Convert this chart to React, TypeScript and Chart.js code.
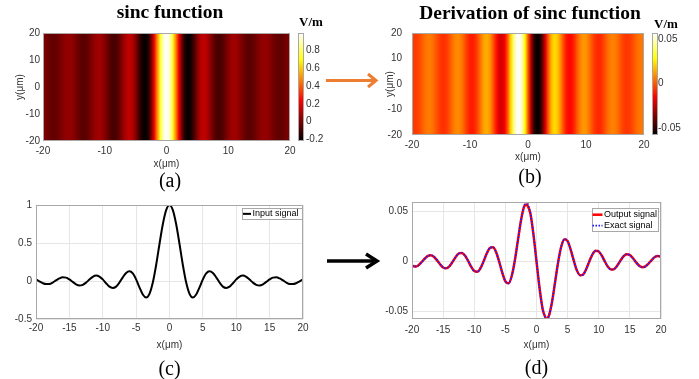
import React, { useEffect, useRef } from 'react';
import { Chart, registerables } from 'chart.js';

Chart.register(...registerables);

// ---------- data ----------
const sincX = [
  -20, -19.5, -19, -18.5, -18, -17.5, -17, -16.5, -16, -15.5, -15, -14.5, -14, -13.5, -13, -12.5, -12, -11.5, -11, -10.5,
  -10, -9.5, -9, -8.5, -8, -7.5, -7, -6.5, -6, -5.5, -5, -4.5, -4, -3.5, -3, -2.5, -2, -1.5, -1, -0.5,
  0, 0.5, 1, 1.5, 2, 2.5, 3, 3.5, 4, 4.5, 5, 5.5, 6, 6.5, 7, 7.5, 8, 8.5, 9, 9.5,
  10, 10.5, 11, 11.5, 12, 12.5, 13, 13.5, 14, 14.5, 15, 15.5, 16, 16.5, 17, 17.5, 18, 18.5, 19, 19.5, 20,
];
const sincY = [
  0.020, -0.004, -0.028, -0.041, -0.039, -0.020, 0.008, 0.034, 0.048, 0.044, 0.021, -0.012, -0.043, -0.058, -0.050, -0.021, 0.019, 0.055, 0.071, 0.059,
  0.021, -0.029, -0.074, -0.091, -0.074, -0.020, 0.048, 0.105, 0.128, 0.100, 0.021, -0.084, -0.177, -0.217, -0.169, -0.021, 0.211, 0.487, 0.747, 0.933,
  1.000, 0.933, 0.747, 0.487, 0.211, -0.021, -0.169, -0.217, -0.177, -0.084, 0.021, 0.100, 0.128, 0.105, 0.048, -0.020, -0.074, -0.091, -0.074, -0.029,
  0.021, 0.059, 0.071, 0.055, 0.019, -0.021, -0.050, -0.058, -0.043, -0.012, 0.021, 0.044, 0.048, 0.034, 0.008, -0.020, -0.039, -0.041, -0.028, -0.004, 0.020,
];

const derivX = [
  -20, -19.5, -19, -18.5, -18, -17.5, -17, -16.5, -16, -15.5, -15, -14.5, -14, -13.5, -13, -12.5, -12, -11.5, -11, -10.5,
  -10, -9.5, -9, -8.5, -8, -7.5, -7, -6.5, -6, -5.5, -5, -4.5, -4, -3.5, -3, -2.5, -2, -1.6, -1.5, -1, -0.5,
  0, 0.5, 1, 1.5, 1.6, 2, 2.5, 3, 3.5, 4, 4.5, 5, 5.5, 6, 6.5, 7, 7.5, 8, 8.5, 9, 9.5,
  10, 10.5, 11, 11.5, 12, 12.5, 13, 13.5, 14, 14.5, 15, 15.5, 16, 16.5, 17, 17.5, 18, 18.5, 19, 19.5, 20,
];
const outputY = [
  -0.0044, -0.0053, -0.0042, -0.0012, 0.0023, 0.0052, 0.0060, 0.0046, 0.0011, -0.0030, -0.0062, -0.0071, -0.0051, -0.0008, 0.0041, 0.0077, 0.0084, 0.0058, 0.0005, -0.0055,
  -0.0098, -0.0105, -0.0070, -0.0001, 0.0077, 0.0133, 0.0141, 0.0094, -0.0004, -0.0114, -0.0202, -0.0222, -0.0153, 0.0000, 0.0204, 0.0407, 0.0546, 0.0570, 0.0565, 0.0484, 0.0274,
  0.0000, -0.0274, -0.0484, -0.0572, -0.0580, -0.0546, -0.0407, -0.0204, 0.0000, 0.0153, 0.0222, 0.0202, 0.0114, 0.0004, -0.0094, -0.0141, -0.0133, -0.0077, 0.0001, 0.0070, 0.0105,
  0.0098, 0.0055, -0.0005, -0.0058, -0.0084, -0.0077, -0.0041, 0.0008, 0.0051, 0.0071, 0.0062, 0.0030, -0.0011, -0.0046, -0.0060, -0.0052, -0.0023, 0.0012, 0.0042, 0.0053, 0.0044,
];
const exactY = [
  -0.0044, -0.0053, -0.0042, -0.0012, 0.0023, 0.0052, 0.0060, 0.0046, 0.0011, -0.0030, -0.0062, -0.0071, -0.0051, -0.0008, 0.0041, 0.0077, 0.0084, 0.0058, 0.0005, -0.0055,
  -0.0098, -0.0105, -0.0070, -0.0001, 0.0077, 0.0133, 0.0141, 0.0094, -0.0004, -0.0114, -0.0202, -0.0222, -0.0153, 0.0000, 0.0204, 0.0407, 0.0552, 0.0595, 0.0590, 0.0492, 0.0274,
  0.0000, -0.0274, -0.0484, -0.0572, -0.0580, -0.0546, -0.0407, -0.0204, 0.0000, 0.0153, 0.0222, 0.0202, 0.0114, 0.0004, -0.0094, -0.0141, -0.0133, -0.0077, 0.0001, 0.0070, 0.0105,
  0.0098, 0.0055, -0.0005, -0.0058, -0.0084, -0.0077, -0.0041, 0.0008, 0.0051, 0.0071, 0.0062, 0.0030, -0.0011, -0.0046, -0.0060, -0.0052, -0.0023, 0.0012, 0.0042, 0.0053, 0.0044,
];

const mapTicks = [-20, -10, 0, 10, 20];
const lineXTicks = [-20, -15, -10, -5, 0, 5, 10, 15, 20];
const sincYTicks = [-0.5, 0, 0.5, 1];
const derivYTicks = [-0.05, 0, 0.05];
const sincBarTicks = [-0.2, 0, 0.2, 0.4, 0.6, 0.8];
const derivBarTicks = [-0.05, 0, 0.05];

const titleA = 'sinc function';
const titleB = 'Derivation of sinc function';
const panelLabels = ['(a)', '(b)', '(c)', '(d)'];
const xLabel = 'x(μm)';
const yLabel = 'y(μm)';
const unitLabel = 'V/m';
const inputLabel = 'Input signal';
const outputLabel = 'Output signal';
const exactLabel = 'Exact signal';

// ---------- styling helpers ----------
const SANS = '"Liberation Sans", Arial, sans-serif';
const SERIF = '"Liberation Serif", "Times New Roman", serif';
const TICK_COLOR = '#333333';
const FRAME_COLOR = '#a8a8a8';

function hot(t: number) {
  const c = Math.max(0, Math.min(1, t));
  const r = Math.min(1, c / 0.375);
  const g = Math.max(0, Math.min(1, (c - 0.375) / 0.375));
  const b = Math.max(0, Math.min(1, (c - 0.75) / 0.25));
  return `rgb(${Math.round(r * 255)},${Math.round(g * 255)},${Math.round(b * 255)})`;
}

const fixedTicks = (vals: number[]) => (scale: any) => {
  scale.ticks = vals.map((v) => ({ value: v }));
};

const tickFont = { family: SANS, size: 10 };

const framePlugin = {
  id: 'frame',
  afterDatasetsDraw(chart: any) {
    const { ctx, chartArea: a } = chart;
    ctx.save();
    ctx.strokeStyle = FRAME_COLOR;
    ctx.lineWidth = 1;
    ctx.strokeRect(Math.round(a.left) + 0.5, Math.round(a.top) + 0.5, Math.round(a.right - a.left) - 1, Math.round(a.bottom - a.top) - 1);
    ctx.restore();
  },
};

function makeHeatmapPlugin(cfg: {
  xs: number[]; vs: number[]; min: number; max: number;
  barOffset: number; barWidth: number; unitDX: number; unitDY: number;
}) {
  return {
    id: 'heatmap',
    beforeDatasetsDraw(chart: any) {
      const { ctx, chartArea: a, scales } = chart;
      const xs = scales.x;
      const w = a.right - a.left;
      const g = ctx.createLinearGradient(a.left, 0, a.right, 0);
      cfg.xs.forEach((x, i) => {
        const p = (xs.getPixelForValue(x) - a.left) / w;
        g.addColorStop(Math.max(0, Math.min(1, p)), hot((cfg.vs[i] - cfg.min) / (cfg.max - cfg.min)));
      });
      ctx.save();
      ctx.fillStyle = g;
      ctx.fillRect(a.left, a.top, w, a.bottom - a.top);
      // colour bar
      const cb = scales.cb;
      const top = cb.getPixelForValue(cfg.max);
      const bot = cb.getPixelForValue(cfg.min);
      const x0 = a.right + cfg.barOffset;
      const g2 = ctx.createLinearGradient(0, bot, 0, top);
      g2.addColorStop(0, '#000000');
      g2.addColorStop(0.375, '#ff0000');
      g2.addColorStop(0.75, '#ffff00');
      g2.addColorStop(1, '#ffffff');
      ctx.fillStyle = g2;
      ctx.fillRect(x0, top, cfg.barWidth, bot - top);
      ctx.strokeStyle = FRAME_COLOR;
      ctx.lineWidth = 1;
      ctx.strokeRect(x0 + 0.5, top + 0.5, cfg.barWidth - 1, bot - top - 1);
      // unit
      ctx.fillStyle = '#000';
      ctx.font = `bold 13px ${SERIF}`;
      ctx.textAlign = 'left';
      ctx.textBaseline = 'middle';
      ctx.fillText(unitLabel, a.right + cfg.unitDX, a.top + cfg.unitDY);
      ctx.restore();
    },
  };
}

function makeLegendPlugin(cfg: {
  fontSize: number; lineLen: number; padL: number; gap: number; padR: number;
  rowH: number; padV: number; right: number; top: number;
}) {
  return {
    id: 'insideLegend',
    afterDatasetsDraw(chart: any) {
      const { ctx, chartArea: a } = chart;
      const ds = chart.data.datasets;
      ctx.save();
      ctx.font = `${cfg.fontSize}px ${SANS}`;
      const textW = Math.max(...ds.map((d: any) => ctx.measureText(d.label).width));
      const w = cfg.padL + cfg.lineLen + cfg.gap + textW + cfg.padR;
      const h = ds.length * cfg.rowH + cfg.padV * 2;
      const x0 = Math.round(a.right - cfg.right - w);
      const y0 = Math.round(a.top + cfg.top);
      ctx.fillStyle = '#ffffff';
      ctx.fillRect(x0, y0, w, h);
      ctx.strokeStyle = FRAME_COLOR;
      ctx.lineWidth = 1;
      ctx.strokeRect(x0 + 0.5, y0 + 0.5, Math.round(w), Math.round(h));
      ds.forEach((d: any, i: number) => {
        const cy = y0 + cfg.padV + cfg.rowH * (i + 0.5) + 0.5;
        ctx.strokeStyle = d.borderColor;
        ctx.lineWidth = d.borderWidth;
        ctx.setLineDash(d.borderDash || []);
        ctx.beginPath();
        ctx.moveTo(x0 + cfg.padL, cy);
        ctx.lineTo(x0 + cfg.padL + cfg.lineLen, cy);
        ctx.stroke();
        ctx.setLineDash([]);
        ctx.fillStyle = '#000';
        ctx.textAlign = 'left';
        ctx.textBaseline = 'middle';
        ctx.fillText(d.label, x0 + cfg.padL + cfg.lineLen + cfg.gap, cy);
      });
      ctx.restore();
    },
  };
}

const numLabel = (v: any) => String(v);

function heatmapConfig(p: {
  title: string; label: string; xs: number[]; vs: number[]; cbTicks: number[];
  padding: any; titlePadBottom: number; xAxisH: number; xTickPad: number; xTitlePadB: number;
  yAxisW: number; yTickPad: number; yTitlePadT: number; cbW: number; cbTickPad: number;
  barOffset: number; barWidth: number; unitDX: number; unitDY: number;
}): any {
  const cmin = Math.min(...p.vs);
  const cmax = Math.max(...p.vs);
  const noGrid = { display: false, drawTicks: false };
  return {
    type: 'scatter',
    data: { datasets: [] },
    plugins: [
      makeHeatmapPlugin({ xs: p.xs, vs: p.vs, min: cmin, max: cmax, barOffset: p.barOffset, barWidth: p.barWidth, unitDX: p.unitDX, unitDY: p.unitDY }),
      framePlugin,
    ],
    options: {
      responsive: false,
      animation: false,
      events: [],
      layout: { padding: p.padding },
      plugins: {
        legend: { display: false },
        tooltip: { enabled: false },
        title: {
          display: true, text: p.title, color: '#000',
          font: { family: SERIF, size: 19.5, weight: 'bold' },
          padding: { top: 0, bottom: p.titlePadBottom },
        },
        subtitle: {
          display: true, position: 'bottom', text: p.label, color: '#000',
          font: { family: SERIF, size: 20, weight: 'normal', lineHeight: 1 },
          padding: 0,
        },
      },
      scales: {
        x: {
          type: 'linear', min: -20, max: 20,
          grid: noGrid, border: { display: false },
          ticks: { font: tickFont, color: TICK_COLOR, padding: p.xTickPad, autoSkip: false, maxRotation: 0, callback: numLabel },
          afterBuildTicks: fixedTicks(mapTicks),
          title: { display: true, text: xLabel, color: TICK_COLOR, font: tickFont, padding: { top: 0, bottom: p.xTitlePadB } },
          afterFit: (s: any) => { s.height = p.xAxisH; },
        },
        y: {
          type: 'linear', position: 'left', min: -20, max: 20,
          grid: noGrid, border: { display: false },
          ticks: { font: tickFont, color: TICK_COLOR, padding: p.yTickPad, autoSkip: false, callback: numLabel },
          afterBuildTicks: fixedTicks(mapTicks),
          title: { display: true, text: yLabel, color: TICK_COLOR, font: tickFont, padding: { top: p.yTitlePadT, bottom: 0 } },
          afterFit: (s: any) => { s.width = p.yAxisW; },
        },
        cb: {
          type: 'linear', position: 'right', min: cmin, max: cmax,
          grid: noGrid, border: { display: false },
          ticks: { font: tickFont, color: TICK_COLOR, padding: p.cbTickPad, autoSkip: false, callback: numLabel },
          afterBuildTicks: fixedTicks(p.cbTicks),
          afterFit: (s: any) => { s.width = p.cbW; },
        },
      },
    },
  };
}

function lineConfig(p: {
  datasets: any[]; label: string; yMin: number; yMax: number; yTicks: number[];
  padding: any; xAxisH: number; xTickPad: number; xTitlePadB: number; yAxisW: number; yTickPad: number;
  legend: any;
}): any {
  return {
    type: 'line',
    data: { datasets: p.datasets },
    plugins: [framePlugin, makeLegendPlugin(p.legend)],
    options: {
      responsive: false,
      animation: false,
      events: [],
      layout: { padding: p.padding },
      elements: { point: { radius: 0 } },
      plugins: {
        legend: { display: false },
        tooltip: { enabled: false },
        title: { display: false },
        subtitle: {
          display: true, position: 'bottom', text: p.label, color: '#000', fullSize: false,
          font: { family: SERIF, size: 20, weight: 'normal', lineHeight: 1 },
          padding: 0,
        },
      },
      scales: {
        x: {
          type: 'linear', min: -20, max: 20,
          grid: { color: '#e6e6e6', drawTicks: false }, border: { display: false },
          ticks: { font: tickFont, color: TICK_COLOR, padding: p.xTickPad, autoSkip: false, maxRotation: 0, callback: numLabel },
          afterBuildTicks: fixedTicks(lineXTicks),
          title: { display: true, text: xLabel, color: TICK_COLOR, font: tickFont, padding: { top: 0, bottom: p.xTitlePadB } },
          afterFit: (s: any) => { s.height = p.xAxisH; },
        },
        y: {
          type: 'linear', position: 'left', min: p.yMin, max: p.yMax,
          grid: { color: '#e6e6e6', drawTicks: false }, border: { display: false },
          ticks: { font: tickFont, color: TICK_COLOR, padding: p.yTickPad, autoSkip: false, callback: numLabel },
          afterBuildTicks: fixedTicks(p.yTicks),
          afterFit: (s: any) => { s.width = p.yAxisW; },
        },
      },
    },
  };
}

const toPoints = (xs: number[], ys: number[]) => xs.map((x, i) => ({ x, y: ys[i] }));

export default function App() {
  const refA = useRef<HTMLCanvasElement>(null);
  const refB = useRef<HTMLCanvasElement>(null);
  const refC = useRef<HTMLCanvasElement>(null);
  const refD = useRef<HTMLCanvasElement>(null);

  useEffect(() => {
    const charts: Chart[] = [];

    charts.push(new Chart(refA.current!, heatmapConfig({
      title: titleA, label: panelLabels[0], xs: sincX, vs: sincY, cbTicks: sincBarTicks,
      padding: { left: 0, right: 9, top: 1, bottom: 0 }, titlePadBottom: 8.6,
      xAxisH: 31, xTickPad: 4, xTitlePadB: 2,
      yAxisW: 43, yTickPad: 3, yTitlePadT: 14,
      cbW: 50, cbTickPad: 16, barOffset: 8, barWidth: 6, unitDX: 9, unitDY: -10,
    })));

    charts.push(new Chart(refB.current!, heatmapConfig({
      title: titleB, label: panelLabels[1], xs: derivX, vs: outputY, cbTicks: derivBarTicks,
      padding: { left: 12, right: 0, top: 2, bottom: 2 }, titlePadBottom: 7.6,
      xAxisH: 33, xTickPad: 4, xTitlePadB: 4.5,
      yAxisW: 51, yTickPad: 10, yTitlePadT: 23,
      cbW: 55, cbTickPad: 14, barOffset: 8, barWidth: 6, unitDX: 10, unitDY: -8,
    })));

    charts.push(new Chart(refC.current!, lineConfig({
      datasets: [{
        label: inputLabel, data: toPoints(sincX, sincY), borderColor: '#000000', borderWidth: 2,
        cubicInterpolationMode: 'monotone', fill: false, pointRadius: 0,
      }],
      label: panelLabels[2], yMin: -0.5, yMax: 1, yTicks: sincYTicks,
      padding: { left: 0, right: 46, top: 15, bottom: 1 },
      xAxisH: 41, xTickPad: 3, xTitlePadB: 9, yAxisW: 36, yTickPad: 4,
      legend: { fontSize: 9, lineLen: 8, padL: 1, gap: 1.5, padR: 3, rowH: 10.7, padV: 0, right: 1, top: 3 },
    })));

    const dMin = Math.min(...outputY, ...exactY);
    const dMax = Math.max(...outputY, ...exactY);
    charts.push(new Chart(refD.current!, lineConfig({
      datasets: [
        {
          label: outputLabel, data: toPoints(derivX, outputY), borderColor: '#ff0000', borderWidth: 2.5,
          cubicInterpolationMode: 'monotone', fill: false, pointRadius: 0, order: 2,
        },
        {
          label: exactLabel, data: toPoints(derivX, exactY), borderColor: '#1a1aff', borderWidth: 1.8,
          borderDash: [1.5, 1.5], cubicInterpolationMode: 'monotone', fill: false, pointRadius: 0, order: 1,
        },
      ],
      label: panelLabels[3], yMin: dMin, yMax: dMax, yTicks: derivYTicks,
      padding: { left: 0, right: 38, top: 12, bottom: 2 },
      xAxisH: 40, xTickPad: 5, xTitlePadB: 8, yAxisW: 63, yTickPad: 4,
      legend: { fontSize: 9, lineLen: 10, padL: 0.5, gap: 1.5, padR: 1, rowH: 11, padV: 0.7, right: 2.7, top: 6 },
    })));

    return () => charts.forEach((c) => c.destroy());
  }, []);

  const abs = (left: number, top: number): React.CSSProperties => ({ position: 'absolute', left, top });

  return (
    <div style={{ position: 'absolute', left: 0, top: 0, width: 699, height: 379, background: '#ffffff', overflow: 'hidden' }}>
      <canvas ref={refA} width={349} height={192} style={abs(0, 0)} />
      <canvas ref={refB} width={350} height={190} style={abs(349, 0)} />
      <canvas ref={refC} width={349} height={191} style={abs(0, 190)} />
      <canvas ref={refD} width={350} height={191} style={abs(349, 190)} />
      <svg width={699} height={379} style={{ position: 'absolute', left: 0, top: 0, pointerEvents: 'none' }}>
        <line x1={326} y1={80.5} x2={375} y2={80.5} stroke="#ED7D31" strokeWidth={3} />
        <polyline points="368,74 376,80.5 368,87" fill="none" stroke="#ED7D31" strokeWidth={3} />
        <line x1={327} y1={261} x2={376} y2={261} stroke="#000000" strokeWidth={3.5} />
        <polyline points="366,254 377,261 366,268" fill="none" stroke="#000000" strokeWidth={3.5} />
      </svg>
    </div>
  );
}
